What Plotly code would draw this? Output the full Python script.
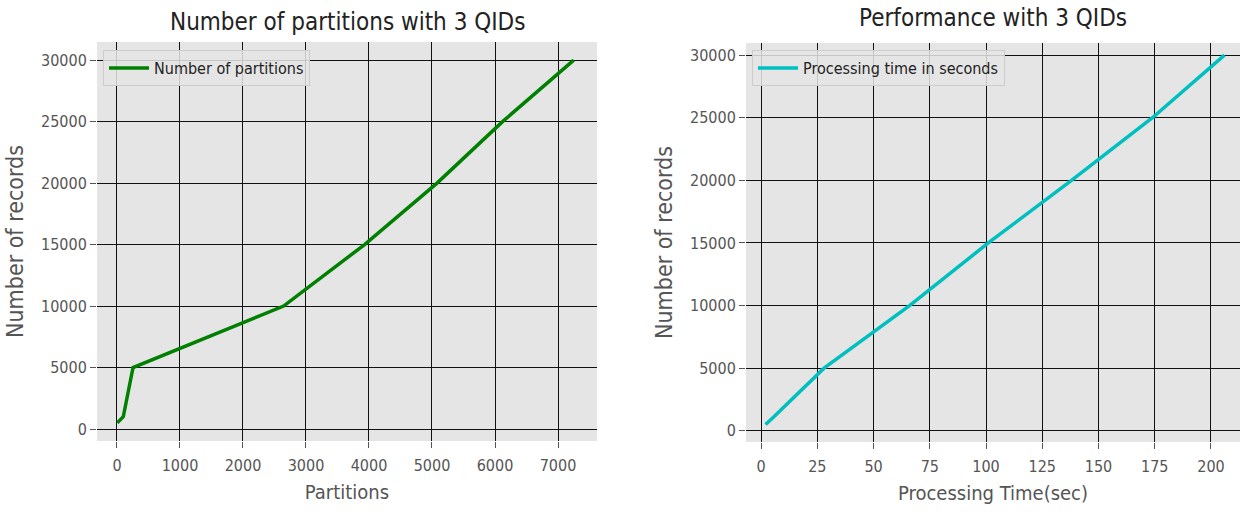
import plotly.graph_objects as go

# Data
part_records = [500, 1000, 5000, 10000, 15000, 20000, 25000, 30000]
partitions = [5, 100, 255, 2645, 3930, 5080, 6120, 7250]

perf_records = [500, 1000, 5000, 10000, 15000, 20000, 25000, 30000]
proc_time = [2, 5, 28, 66, 101, 138, 174, 206]

left_xticks = [0, 1000, 2000, 3000, 4000, 5000, 6000, 7000]
right_xticks = [0, 25, 50, 75, 100, 125, 150, 175, 200]
yticks = [0, 5000, 10000, 15000, 20000, 25000, 30000]

W, H = 1243, 512
FONT = "DejaVu Sans Condensed, DejaVu Sans, sans-serif"
BG = "#E5E5E5"
TICKCOL = "#555555"


def px_x(a, b):
    return [a / W, b / W]


def px_y(top, bottom):
    return [1 - bottom / H, 1 - top / H]


fig = go.Figure()
fig.add_trace(go.Scatter(x=partitions, y=part_records, mode="lines",
                         line=dict(color="green", width=3.5),
                         name="Number of partitions", xaxis="x", yaxis="y",
                         legend="legend"))
fig.add_trace(go.Scatter(x=proc_time, y=perf_records, mode="lines",
                         line=dict(color="#00BFBF", width=3.5),
                         name="Processing time in seconds", xaxis="x2", yaxis="y2",
                         legend="legend2"))

axis_common = dict(
    showgrid=True, gridcolor="#111111", gridwidth=1.3,
    zeroline=False, showline=False, automargin=False,
    ticks="outside", ticklen=6, tickcolor=TICKCOL, tickwidth=1,
    tickformat="d",
    tickfont=dict(family=FONT, size=16, color=TICKCOL),
)

fig.update_layout(
    width=W, height=H,
    paper_bgcolor="white", plot_bgcolor=BG,
    margin=dict(l=0, r=0, t=0, b=0, autoexpand=False),
    font=dict(family=FONT),
    showlegend=True,
    xaxis=dict(domain=px_x(97, 597), range=[-317, 7619], tickvals=left_xticks,
               ticklabelstandoff=4,
               title=dict(text="Partitions", font=dict(size=20, color=TICKCOL), standoff=10),
               anchor="y", **axis_common),
    yaxis=dict(domain=px_y(42, 441), range=[-975, 31475], tickvals=yticks,
               title=dict(text="Number of records", font=dict(size=23, color=TICKCOL), standoff=10),
               anchor="x", **axis_common),
    xaxis2=dict(domain=px_x(746, 1240), range=[-6.7, 212.9], tickvals=right_xticks,
                ticklabelstandoff=4,
                title=dict(text="Processing Time(sec)", font=dict(size=20, color=TICKCOL), standoff=10),
                anchor="y2", **axis_common),
    yaxis2=dict(domain=px_y(43, 442), range=[-900, 30970], tickvals=yticks,
                title=dict(text="Number of records", font=dict(size=23, color=TICKCOL), standoff=10),
                anchor="x2", **axis_common),
    legend=dict(x=103 / W, y=1 - 50 / H, xanchor="left", yanchor="top",
                bgcolor="rgba(229,229,229,0.85)", bordercolor="#CCCCCC", borderwidth=1,
                font=dict(family=FONT, size=16, color="#222222"),
                itemwidth=40, tracegroupgap=0),
    legend2=dict(x=752 / W, y=1 - 50 / H, xanchor="left", yanchor="top",
                 bgcolor="rgba(229,229,229,0.85)", bordercolor="#CCCCCC", borderwidth=1,
                 font=dict(family=FONT, size=16, color="#222222"),
                 itemwidth=40, tracegroupgap=0),
    annotations=[
        dict(text="Number of partitions with 3 QIDs", x=347 / W, y=1 - 22 / H,
             xref="paper", yref="paper", xanchor="center", yanchor="middle",
             showarrow=False, font=dict(family=FONT, size=24, color="#222222")),
        dict(text="Performance with 3 QIDs", x=993 / W, y=1 - 18 / H,
             xref="paper", yref="paper", xanchor="center", yanchor="middle",
             showarrow=False, font=dict(family=FONT, size=24, color="#222222")),
    ],
)

fig.write_html("out.html", config={"displayModeBar": False},
               post_script="document.body.style.margin='0px';")
